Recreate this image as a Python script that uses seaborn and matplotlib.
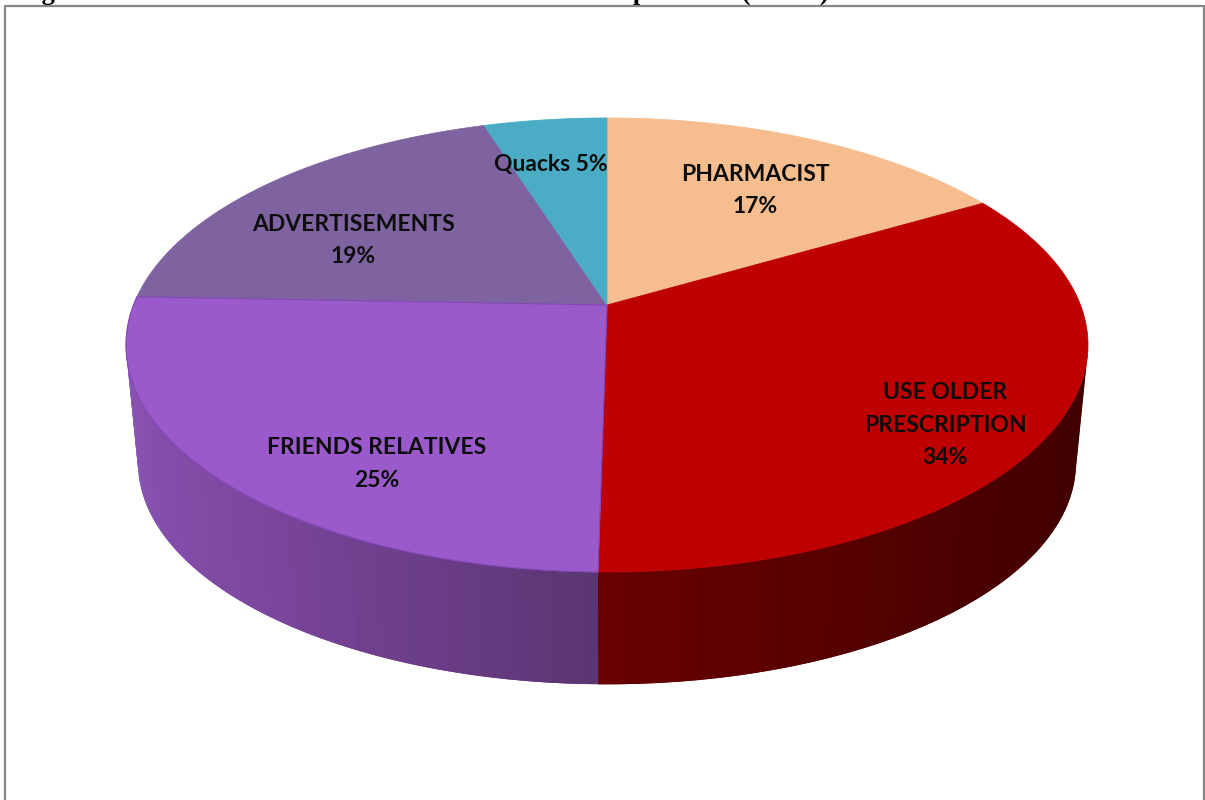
import matplotlib
matplotlib.use("Agg")
import matplotlib.pyplot as plt
import seaborn as sns
import numpy as np

sources = ["PHARMACIST", "USE OLDER\nPRESCRIPTION", "FRIENDS RELATIVES", "ADVERTISEMENTS", "Quacks"]
shares = [16.6, 33.65, 25.35, 19.5, 4.9]
shown_pct = [17, 34, 25, 19, 5]
title = "Fig 6: Sources of Information of Medications to the respondents (n=100)"

top_colors = ["#F6BE8F", "#BE0000", "#9A5ACB", "#7F63A1", "#4BACC6"]
# wall gradient, running clockwise along each slice that shows a wall
wall_colors = {1: ["#3E0000", "#4C0000", "#680000"], 2: ["#5C3573", "#7C479F", "#8B55B6"]}
label_pos = [(755, 190.5), (945, 425), (377, 464), (353, 240.5), (551, 164.5)]

sns.set_theme(style="white")
plt.rcParams['font.family'] = ['Lato', 'DejaVu Sans']

# perspective of the tilted disc, in pixels of the picture
cx, cy_top, cy_bot = 607, 305, 424
k, a, b = 0.176, 220, 473.5
shrink = 0.975


def project(theta, cy, s=1.0):
    u, v = np.sin(theta), np.cos(theta)
    return cx + s * b * u / (1 + k * v), cy - s * a * v / (1 + k * v)


fig = plt.figure(figsize=(12.05, 8), dpi=100, facecolor="white")
ax = fig.add_axes([0, 0, 1, 1])
ax.set_xlim(0, 1205)
ax.set_ylim(800, 0)
ax.axis("off")

edges = np.radians(np.r_[0, np.cumsum(shares)] * 3.6)
# wall turns away from the viewer past these angles
turn = np.arccos(-k)

# walls first, each quad overlaps the next so no seams show
for i in wall_colors:
    th = np.linspace(edges[i], edges[i + 1], 60)
    th = th[(th >= turn) & (th <= 2 * np.pi - turn)]
    pal = sns.blend_palette(wall_colors[i], len(th) - 1)
    for j in range(len(th) - 1):
        x1, y1 = project(th[j:j + 3], cy_top)
        x2, y2 = project(th[j:j + 3], cy_bot, shrink)
        ax.fill(np.r_[x1, x2[::-1]], np.r_[y1, y2[::-1]], color=pal[j], lw=0)

# top of the disc
for i, c in enumerate(top_colors):
    th = np.linspace(edges[i], edges[i + 1], 200)
    x, y = project(th, cy_top)
    ax.fill(np.r_[cx, x], np.r_[cy_top, y], color=c, lw=0.5)

# thin darker outline round the purple slice
th = np.linspace(edges[2], edges[3], 200)
x, y = project(th, cy_top)
ax.plot(np.r_[cx, x, cx], np.r_[cy_top, y, cy_top], color="#8448B8", lw=0.8)

for name, pct, pos in zip(sources, shown_pct, label_pos):
    sep = " " if name == "Quacks" else "\n"
    ax.text(pos[0], pos[1], f"{name}{sep}{pct}%", ha="center", va="center", fontsize=16.5,
            fontweight="bold", color="#0D0D0D", linespacing=1.65)

# chart frame, bottom is cut off by the picture
ax.plot([5, 5, 1204, 1204], [800, 6, 6, 800], color="#868686", lw=1.6, clip_on=False)
ax.text(18, 0, title, ha="left", va="baseline", fontsize=19, fontweight="bold",
        family=["Liberation Serif", "DejaVu Serif"], color="black")

fig.savefig("out.png", dpi=100)
